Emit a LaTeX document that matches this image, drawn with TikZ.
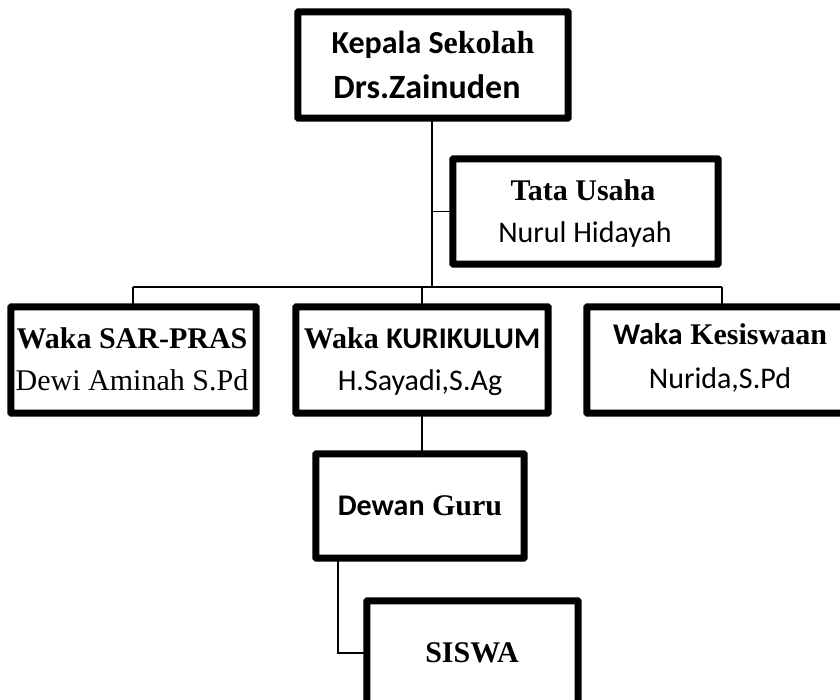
\documentclass[tikz,border=0pt]{standalone}
\usepackage{fontspec}
\setmainfont{Liberation Serif}
\newfontfamily\calib{Carlito}
\tikzset{
  box/.style={draw=black, line width=4.6pt, rounded corners=1.2pt, rectangle, inner sep=0pt, fill=white},
  link/.style={draw=black, line width=1.3pt},
  txt/.style={anchor=base, inner sep=0pt, font=\fontsize{30}{36}\selectfont},
  bigtxt/.style={txt, font=\fontsize{32}{38}\selectfont},
  hugetxt/.style={txt, font=\fontsize{34}{40}\selectfont},
}
\begin{document}
\begin{tikzpicture}[x=1pt,y=-1pt]
\useasboundingbox (0,0) rectangle (840,699);
\clip (0,0) rectangle (840,699);
\fill[white] (0,0) rectangle (840,699);
% boxes
\node[box, minimum width=268pt, minimum height=104pt] (kepala) at (433,65) {};
\node[box, minimum width=263pt, minimum height=103pt] (tata) at (585.5,211.5) {};
\node[box, minimum width=243pt, minimum height=104pt] (sar) at (133.5,360) {};
\node[box, minimum width=250pt, minimum height=104pt] (kur) at (422,360) {};
\node[box, minimum width=262pt, minimum height=104pt] (kes) at (719,360) {};
\node[box, minimum width=206pt, minimum height=102pt] (dewan) at (420,506) {};
\node[box, minimum width=209pt, minimum height=108pt] (siswa) at (472.5,656) {};
% connectors
\coordinate (trunkbot) at (432,287);
\coordinate (busL) at (133,287);
\coordinate (busR) at (722,287);
\coordinate (busK) at (422,287);
\coordinate (bend) at (338,653);
\draw[link] (kepala.south -| trunkbot) -- (trunkbot);
\draw[link] (trunkbot |- tata.west) -- (tata.west);
\draw[link] (busL) -- (busR);
\draw[link] (busL) -- (busL |- sar.north);
\draw[link] (busK) -- (busK |- kur.north);
\draw[link] (busR) -- (busR |- kes.north);
\draw[link] (kur.south -| busK) -- (busK |- dewan.north);
\draw[link] (dewan.south -| bend) -- (bend) -- (siswa.west |- bend);
% redraw boxes above connectors
\foreach \n in {kepala,tata,sar,kur,kes,dewan,siswa}{
  \draw[box, fill=none] (\n.north west) rectangle (\n.south east);
}
% texts
\node[bigtxt] (kepala1) at (433,53) {\bfseries{\calib Kepala S}ekolah};
\node[hugetxt] (kepala2) at (427,98) {\calib\bfseries Drs.Zainuden};
\node[txt] (tata1) at (583,200) {\bfseries Tata Usaha};
\node[txt] (tata2) at (585,242) {\calib Nurul Hidayah};
\node[txt] (sar1) at (132,348) {\bfseries Waka SAR-PRAS};
\node[txt] (sar2) at (132,390) {Dewi Aminah S.Pd};
\node[txt] (kur1) at (422,348) {\bfseries Waka {\calib KURIKULUM}};
\node[txt] (kur2) at (420,390) {\calib H.Sayadi,S.Ag};
\node[txt] (kes1) at (720,344) {\bfseries{\calib Waka} Kesiswaan};
\node[txt] (kes2) at (720,388) {\calib Nurida,S.Pd};
\node[txt] (dewan1) at (420,515) {\bfseries{\calib Dewan} Guru};
\node[txt] (siswa1) at (472,662) {\bfseries SISWA};
\end{tikzpicture}
\end{document}
